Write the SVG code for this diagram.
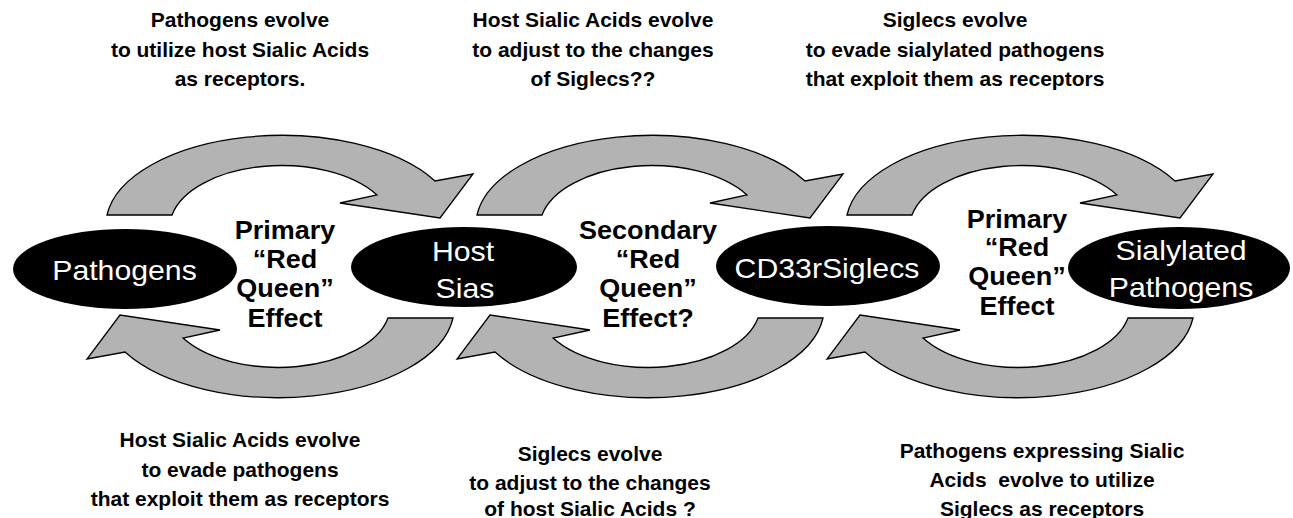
<svg xmlns="http://www.w3.org/2000/svg" xmlns:xlink="http://www.w3.org/1999/xlink" width="1293" height="518" viewBox="0 0 1293 518">
  <style>
    .arrow { fill: #b3b3b3; stroke: #000; stroke-width: 1.3; stroke-linejoin: miter; }
    .node { fill: #000; }
    .nodeText { font-family: "Liberation Sans", Arial, sans-serif; font-size: 28px; fill: #fff; text-anchor: middle; }
    .effect { font-family: "Liberation Sans", Arial, sans-serif; font-size: 25px; font-weight: bold; fill: #000; text-anchor: middle; }
    .note { font-family: "Liberation Sans", Arial, sans-serif; font-size: 20px; font-weight: bold; fill: #000; text-anchor: middle; }
  </style>
  <defs>
    <!-- curved block arrow, drawn for the leftmost upper position -->
    <path id="arcArrow" d="M107,215 A176,90 0 0 1 435,181 L473,174 L440,218 L340,203 L377,195 A112,62 0 0 0 172,215 Z"/>
  </defs>
  <rect width="1293" height="518" fill="#fff"/>

  <g id="connectors" class="arrow">
    <use xlink:href="#arcArrow"/>
    <use xlink:href="#arcArrow" transform="translate(370,0)"/>
    <use xlink:href="#arcArrow" transform="translate(740,0)"/>
    <use xlink:href="#arcArrow" transform="rotate(180,280,266.5)"/>
    <use xlink:href="#arcArrow" transform="translate(370,0) rotate(180,280,266.5)"/>
    <use xlink:href="#arcArrow" transform="translate(740,0) rotate(180,280,266.5)"/>
  </g>

  <g id="node-pathogens">
    <ellipse class="node" cx="125" cy="269" rx="112" ry="40"/>
    <text class="nodeText" transform="translate(124.5,280) scale(1.08,1)">Pathogens</text>
  </g>
  <g id="node-host-sias">
    <ellipse class="node" cx="464" cy="267" rx="113" ry="40"/>
    <text class="nodeText" transform="translate(463,261) scale(1.08,1)">Host</text>
    <text class="nodeText" transform="translate(465,298) scale(1.08,1)">Sias</text>
  </g>
  <g id="node-cd33rsiglecs">
    <ellipse class="node" cx="828" cy="266" rx="112" ry="40"/>
    <text class="nodeText" transform="translate(827,278) scale(1.08,1)">CD33rSiglecs</text>
  </g>
  <g id="node-sialylated-pathogens">
    <ellipse class="node" cx="1179" cy="268" rx="111" ry="41"/>
    <text class="nodeText" transform="translate(1181,260) scale(1.08,1)">Sialylated</text>
    <text class="nodeText" transform="translate(1181,297) scale(1.08,1)">Pathogens</text>
  </g>

  <g id="effect-primary-left" class="effect">
    <g transform="translate(285,0) scale(1.08,1)">
      <text y="239">Primary</text>
      <text y="268">“Red</text>
      <text y="297">Queen”</text>
      <text y="327">Effect</text>
    </g>
  </g>
  <g id="effect-secondary" class="effect">
    <g transform="translate(648,0) scale(1.08,1)">
      <text y="239">Secondary</text>
      <text y="268">“Red</text>
      <text y="297">Queen”</text>
      <text y="327">Effect?</text>
    </g>
  </g>
  <g id="effect-primary-right" class="effect">
    <g transform="translate(1017,0) scale(1.08,1)">
      <text y="228">Primary</text>
      <text y="256">“Red</text>
      <text y="285">Queen”</text>
      <text y="315">Effect</text>
    </g>
  </g>

  <g id="note-top-left" class="note">
    <g transform="translate(240,0) scale(1.05,1)">
      <text y="27">Pathogens evolve</text>
      <text y="57">to utilize host Sialic Acids</text>
      <text y="86">as receptors.</text>
    </g>
  </g>
  <g id="note-top-middle" class="note">
    <g transform="translate(593,0) scale(1.05,1)">
      <text y="27">Host Sialic Acids evolve</text>
      <text y="57">to adjust to the changes</text>
      <text y="86">of Siglecs??</text>
    </g>
  </g>
  <g id="note-top-right" class="note">
    <g transform="translate(955,0) scale(1.05,1)">
      <text y="27">Siglecs evolve</text>
      <text y="57">to evade sialylated pathogens</text>
      <text y="86">that exploit them as receptors</text>
    </g>
  </g>
  <g id="note-bottom-left" class="note">
    <g transform="translate(240,0) scale(1.05,1)">
      <text y="447">Host Sialic Acids evolve</text>
      <text y="477">to evade pathogens</text>
      <text y="506">that exploit them as receptors</text>
    </g>
  </g>
  <g id="note-bottom-middle" class="note">
    <g transform="translate(590,0) scale(1.05,1)">
      <text y="461">Siglecs evolve</text>
      <text y="490">to adjust to the changes</text>
      <text y="516">of host Sialic Acids ?</text>
    </g>
  </g>
  <g id="note-bottom-right" class="note">
    <g transform="translate(1042,0) scale(1.05,1)">
      <text y="458">Pathogens expressing Sialic</text>
      <text y="487" xml:space="preserve">Acids  evolve to utilize</text>
      <text y="516">Siglecs as receptors</text>
    </g>
  </g>
</svg>
